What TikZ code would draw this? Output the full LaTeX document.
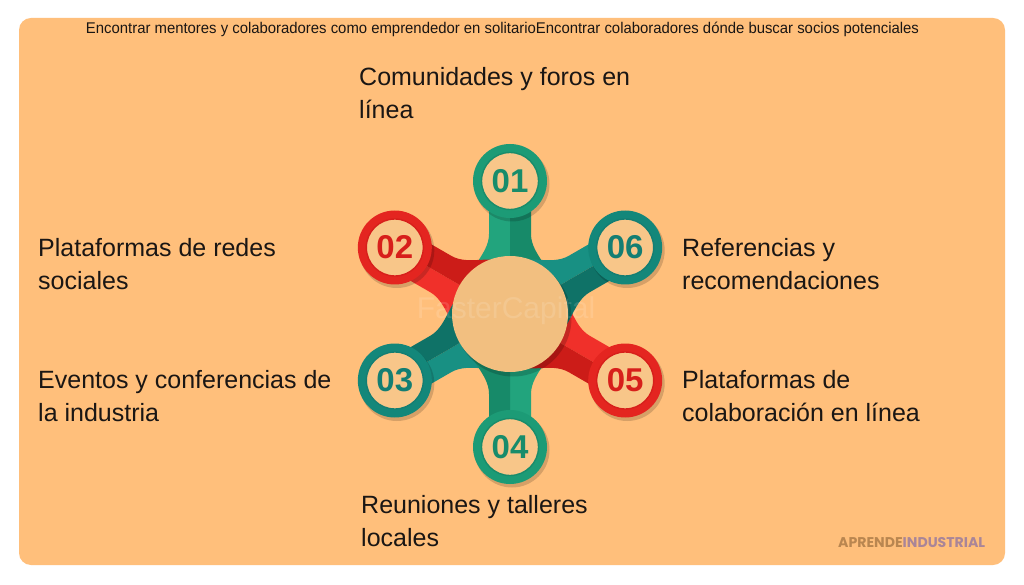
\documentclass[tikz,border=0pt]{standalone}
\usepackage{fontspec}
\usepackage{graphicx}
\setmainfont{Liberation Sans}
\newfontfamily\numfont{Liberation Sans}
\newfontfamily\logofont{Poppins}
\definecolor{bgorange}{HTML}{FFBF7B}
\definecolor{beige}{HTML}{F8C689}
\definecolor{centerbeige}{HTML}{F2BF80}
\definecolor{txtdark}{HTML}{1A1614}
\definecolor{grnL}{HTML}{22A47D}
\definecolor{grnD}{HTML}{178A69}
\definecolor{grnR}{HTML}{1C9B76}
\definecolor{grnN}{HTML}{188C6B}
\definecolor{tealL}{HTML}{189083}
\definecolor{tealD}{HTML}{0F7267}
\definecolor{tealR}{HTML}{13877A}
\definecolor{tealN}{HTML}{137E73}
\definecolor{redL}{HTML}{F0302A}
\definecolor{redD}{HTML}{CC1C18}
\definecolor{redR}{HTML}{E42520}
\definecolor{redN}{HTML}{D71F1B}
\definecolor{aprC}{HTML}{B98650}
\definecolor{indC}{HTML}{A98598}
\newcommand\mytitletext{Encontrar mentores y colaboradores como emprendedor en solitarioEncontrar colaboradores dónde buscar socios potenciales}
\newcommand\labelfont{\fontsize{25}{33}\selectfont}
\newcommand\twolines[2]{\vtop{\baselineskip=33pt\hbox{#1}\hbox{#2}}}
\tikzset{
  labeltext/.style={anchor=base west, inner sep=0pt, text=txtdark, font=\labelfont},
  numtext/.style={font=\numfont\bfseries\fontsize{33}{33}\selectfont, inner sep=0pt},
}
% #1 angle, #2 light, #3 dark
\newcommand\armpiece[3]{%
  \begin{scope}[shift={(510,270)}, rotate=#1]
    \fill[#2] (15,0) -- (15,46) .. controls (45,46) and (58,21) .. (80,21) -- (133,21) -- (133,0) -- cycle;
    \fill[#3] (15,0) -- (15,-46) .. controls (45,-46) and (58,-21) .. (80,-21) -- (133,-21) -- (133,0) -- cycle;
  \end{scope}}
% #1 name, #2 angle, #3 ring colour, #4 number colour, #5 number
\newcommand\bubble[5]{%
  \coordinate (#1) at ($(510,270)+(#2:133)$);
  \fill[black, opacity=0.16] ($(#1)+(2,-3)$) circle[radius=37.5];
  \fill[#3] (#1) circle[radius=37];
  \fill[beige, draw=#4, line width=1.4pt] (#1) circle[radius=28.5];
  \node[numtext, text=#4] (#1n) at (#1) {#5};}
\usetikzlibrary{calc}
\begin{document}
\begin{tikzpicture}[x=1pt,y=1pt]
\useasboundingbox (0,0) rectangle (1024,584);
\fill[white] (0,0) rectangle (1024,584);
\fill[bgorange, rounded corners=12pt] (19,19) rectangle (1005,566);

% title
\node[anchor=base, inner sep=0pt, text=txtdark] (title) at (502.5,550)
  {\resizebox{833pt}{\height}{\fontsize{15.5}{18}\selectfont\mytitletext}};

% arms
\armpiece{90}{grnL}{grnD}
\armpiece{150}{redL}{redD}
\armpiece{210}{tealL}{tealD}
\armpiece{270}{grnL}{grnD}
\armpiece{330}{redL}{redD}
\armpiece{30}{tealL}{tealD}

% bubbles
\bubble{b1}{90}{grnR}{grnN}{01}
\bubble{b2}{150}{redR}{redN}{02}
\bubble{b3}{210}{tealR}{tealN}{03}
\bubble{b4}{270}{grnR}{grnN}{04}
\bubble{b5}{330}{redR}{redN}{05}
\bubble{b6}{30}{tealR}{tealN}{06}

% centre disc
\fill[black, opacity=0.18] (513,266) circle[radius=58.5];
\fill[centerbeige] (510,270) circle[radius=58];
\node[inner sep=0pt, text=white, opacity=0.13, font=\fontsize{30}{30}\selectfont] (wm) at (506,273) {FasterCapital};

% labels
\node[labeltext] (l1) at (359,498) {\twolines{Comunidades y foros en}{línea}};
\node[labeltext] (l2) at (38,327) {\twolines{Plataformas de redes}{sociales}};
\node[labeltext] (l3) at (38,196) {\twolines{Eventos y conferencias de}{la industria}};
\node[labeltext] (l4) at (361,71) {\twolines{Reuniones y talleres}{locales}};
\node[labeltext] (l5) at (682,196) {\twolines{Plataformas de}{colaboración en línea}};
\node[labeltext] (l6) at (682,327) {\twolines{Referencias y}{recomendaciones}};

% logo
\node[anchor=base west, inner sep=0pt] (logo) at (838,37)
  {\resizebox{147pt}{!}{\logofont\bfseries\fontsize{13}{14}\selectfont\textcolor{aprC}{APRENDE}\textcolor{indC}{INDUSTRIAL}}};
\end{tikzpicture}
\end{document}
